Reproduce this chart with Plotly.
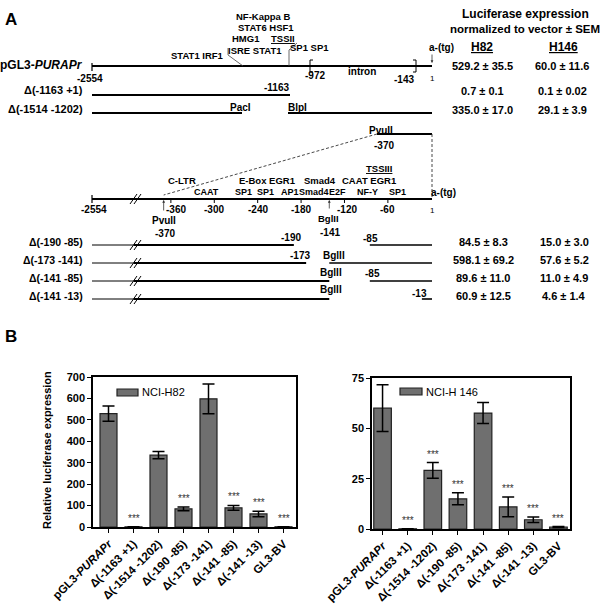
import numpy as np
import plotly.graph_objects as go

# ---------------- data ----------------
constructs = ["pGL3-<i>PURAPr</i>", "Δ(-1163 +1)", "Δ(-1514 -1202)", "Δ(-190 -85)",
              "Δ(-173 -141)", "Δ(-141 -85)", "Δ(-141 -13)", "GL3-BV"]
h82_mean = [529.2, 0.7, 335.0, 84.5, 598.1, 89.6, 60.9, 1.0]
h82_sem = [35.5, 0.1, 17.0, 8.3, 69.2, 11.0, 12.5, 0.1]
h146_mean = [60.0, 0.1, 29.1, 15.0, 57.6, 11.0, 4.6, 1.0]
h146_sem = [11.6, 0.02, 3.9, 3.0, 5.2, 4.9, 1.4, 0.2]
h82_sig = [0, 1, 0, 1, 0, 1, 1, 1]
h146_sig = [0, 1, 1, 1, 0, 1, 1, 1]
h82_ticks = [0, 100, 200, 300, 400, 500, 600, 700]
h146_ticks = [0, 25, 50, 75]
map_ticks = [-360, -300, -240, -180, -120, -60]
# deletions (start, end) in promoter coordinates
upper_dels = [None, (-1163, 1), (-1514, -1202)]
lower_dels = [(-190, -85), (-173, -141), (-141, -85), (-141, -13)]

FONT = "Liberation Sans, Arial, sans-serif"

def fmt(m, s):
    sd = f"{s:.2f}" if s < 0.1 else f"{s:.1f}"
    return f"{m:.1f} ± {sd}"

shapes = []
annots = []

def line(x0, y0, x1, y1, w=2.0, dash=None, color="black"):
    ln = dict(color=color, width=w)
    if dash:
        ln["dash"] = dash
    shapes.append(dict(type="line", xref="x3", yref="y3", x0=x0, y0=y0, x1=x1, y1=y1,
                       line=ln, layer="above"))

def text(x, y, s, size=10, xanchor="center", yanchor="middle", bold=True,
         under=False, color="black", angle=0):
    font = dict(size=size, family=FONT, color=color)
    if bold:
        font["weight"] = "bold"
    if under:
        font["lineposition"] = "under"
    annots.append(dict(xref="x3", yref="y3", x=x, y=y, text=s, showarrow=False,
                       xanchor=xanchor, yanchor=yanchor, font=font, textangle=angle,
                       borderpad=0))

def arrow(x, y0, y1):
    annots.append(dict(xref="x3", yref="y3", axref="x3", ayref="y3", x=x, y=y1, ax=x, ay=y0,
                       text="", showarrow=True, arrowhead=2, arrowsize=0.7,
                       arrowwidth=0.8, arrowcolor="#333"))

# coordinate helpers for the gene maps
def xt(p):
    return float(np.interp(p, [-2554, -1514, -1202, -1163, -972, -143, 1],
                           [92, 242, 288, 290, 310, 416, 432]))

def xm(p):
    return 432 + (p - 1) * 0.7233

# ---------------- panel A ----------------
text(4, 19, "A", size=17, xanchor="left")
text(525, 14, "Luciferase expression", size=12)
text(525, 29, "normalized to vector ± SEM", size=11.5)
text(482, 47, "H82", size=12, under=True)
text(563, 47, "H146", size=12, under=True)

# upper map
row_y_lab = [65, 90, 109]
row_y_line = [66, 95, 113]
text(84, row_y_lab[0], "pGL3-<i>PURAPr</i>", size=12, xanchor="right")
line(xt(-2554), row_y_line[0], xt(1), row_y_line[0])
line(xt(-2554), 63, xt(-2554), 71, w=1.2)
# brackets
line(xt(-972), 60, xt(-972), 72, w=1)
line(xt(-972), 60, xt(-972) + 3, 60, w=1)
line(xt(-972), 72, xt(-972) + 3, 72, w=1)
line(xt(-143), 60, xt(-143), 72, w=1)
line(xt(-143), 60, xt(-143) - 3, 60, w=1)
line(xt(-143), 72, xt(-143) - 3, 72, w=1)
text(90, 78, "-2554", size=10)
text(315, 75, "-972", size=10)
text(362, 71, "intron", size=10)
text(404, 79, "-143", size=10)
text(432, 78, "1", size=8, bold=False)
text(197, 55, "STAT1 IRF1", size=9.5)
text(255, 50, "ISRE STAT1", size=9.5)
text(246, 38, "HMG1", size=9.5)
text(283, 38, "TSSII", size=9.5, under=True)
text(266, 27, "STAT6 HSF1", size=9.5)
text(263, 16, "NF-Kappa B", size=9.5)
text(309, 47, "SP1 SP1", size=9.5)
text(441, 47, "a-(tg)", size=10)
arrow(432, 53, 63)
line(228, 48, 228, 55, w=0.8, color="#444")
line(228, 55, 243, 66, w=0.8, color="#444")
line(297, 43, 289, 50, w=0.8, color="#444")
line(289, 50, 289, 66, w=0.8, color="#444")

for i in (1, 2):
    text(84, row_y_lab[i], constructs[i], size=11, xanchor="right")
    d = upper_dels[i]
    line(xt(-2554), row_y_line[i], xt(d[0]), row_y_line[i])
    if d[1] < 1:
        line(xt(d[1]), row_y_line[i], xt(1), row_y_line[i])
text(290, 87, "-1163", size=10, xanchor="right")
text(240, 107, "PacI", size=10)
text(297, 107, "BlpI", size=10)

for i in range(3):
    text(482, row_y_lab[i] + 1, fmt(h82_mean[i], h82_sem[i]), size=11)
    text(562, row_y_lab[i] + 1, fmt(h146_mean[i], h146_sem[i]), size=11)

# expansion
text(381, 130, "PvuII", size=10)
text(384, 145, "-370", size=10)
line(377, 134, 432, 134)
line(432, 134, 432, 198, w=0.9, dash="3px,2px", color="#333")
line(377, 134, xm(-370), 195, w=0.9, dash="3px,2px", color="#333")

# lower map
my = 199
line(92, my, 432, my)
line(92, 195, 92, 203, w=1.2)
line(130, 204, 137, 194, w=1)
line(134, 204, 141, 194, w=1)
for t in map_ticks:
    line(xm(t), my, xm(t), my + 4, w=1)
    dx = 5 if t == -360 else (3 if t == -120 else 0)
    text(xm(t) + dx, 209, str(t), size=10)
text(94, 209, "-2554", size=10)
text(432, 210, "1", size=8, bold=False)
arrow(xm(-370), 212, 200)
text(xm(-370), 220, "PvuII", size=10)
text(xm(-370) + 1, 233, "-370", size=10)
arrow(xm(-141), 210, 200)
text(xm(-141) - 1, 218, "BglII", size=9.5)
text(xm(-141) + 1, 232, "-141", size=10)
for s, x in [("C-LTR", 182), ("E-Box EGR1", 267), ("Smad4", 320), ("CAAT EGR1", 369)]:
    text(x, 180, s, size=9.5)
for s, x in [("CAAT", 206), ("SP1", 243), ("SP1", 265), ("AP1", 290), ("Smad4", 314),
             ("E2F", 337), ("NF-Y", 367), ("SP1", 397)]:
    text(x, 192, s, size=9)
text(430, 192, "a-(tg)", size=10, xanchor="left")
text(379, 168, "TSSIII", size=9.5, under=True)

low_lab_y = [242, 260, 278, 296]
low_line_y = [245, 263, 281, 299]
for k, d in enumerate(lower_dels):
    i = 3 + k
    y = low_line_y[k]
    text(84, low_lab_y[k], constructs[i], size=10.5, xanchor="right")
    line(92, y, 134, y, w=1)
    line(134, y, xm(d[0]), y, w=2)
    line(xm(d[1]), y, 432, y, w=1.6)
    line(130, y + 5, 137, y - 5, w=1)
    line(134, y + 5, 141, y - 5, w=1)
    text(483, low_lab_y[k], fmt(h82_mean[i], h82_sem[i]), size=11)
    text(564, low_lab_y[k], fmt(h146_mean[i], h146_sem[i]), size=11)
text(291, 237, "-190", size=10)
text(370, 238, "-85", size=10)
text(300, 255, "-173", size=10)
text(334, 255, "BglII", size=10)
text(331, 272, "BglII", size=10)
text(372, 273, "-85", size=10)
text(331, 289, "BglII", size=10)
text(419, 293, "-13", size=10)

# ---------------- panel B ----------------
text(4, 336, "B", size=17, xanchor="left")
text(47, 450, "Relative luciferase expression", size=11, angle=-90)

# legend swatches
shapes.append(dict(type="rect", xref="x3", yref="y3", x0=117, x1=138, y0=389, y1=396,
                   fillcolor="#6f6f6f", line=dict(color="#222", width=1.2), layer="above"))
text(141, 392, "NCI-H82", size=11, bold=False, xanchor="left")
shapes.append(dict(type="rect", xref="x3", yref="y3", x0=400, x1=422, y0=388, y1=395,
                   fillcolor="#6f6f6f", line=dict(color="#222", width=1.2), layer="above"))
text(425, 392, "NCI-H 146", size=11, bold=False, xanchor="left")

xs = list(range(len(constructs)))
fig = go.Figure()
fig.add_trace(go.Bar(x=xs, y=h82_mean, width=0.68, xaxis="x", yaxis="y",
                     marker=dict(color="#6f6f6f", line=dict(color="#222", width=1.2)),
                     error_y=dict(type="data", array=h82_sem, color="black", thickness=1.5, width=6),
                     showlegend=False, name="NCI-H82"))
fig.add_trace(go.Bar(x=xs, y=h146_mean, width=0.7, xaxis="x2", yaxis="y2",
                     marker=dict(color="#6f6f6f", line=dict(color="#222", width=1.2)),
                     error_y=dict(type="data", array=h146_sem, color="black", thickness=1.5, width=6),
                     showlegend=False, name="NCI-H 146"))
fig.add_trace(go.Scatter(x=[0, 600], y=[0, 605], mode="markers", marker=dict(opacity=0),
                         xaxis="x3", yaxis="y3", hoverinfo="skip", showlegend=False))

for i in xs:
    if h82_sig[i]:
        annots.append(dict(xref="x", yref="y", x=i, y=h82_mean[i] + h82_sem[i], text="***",
                           showarrow=False, yanchor="bottom", yshift=1,
                           font=dict(size=10, family=FONT, color="#333")))
    if h146_sig[i]:
        annots.append(dict(xref="x2", yref="y2", x=i, y=h146_mean[i] + h146_sem[i], text="***",
                           showarrow=False, yanchor="bottom", yshift=1,
                           font=dict(size=10, family=FONT, color="#333")))

ticktext = [f"<b>{c}</b>" for c in constructs]
axis_common = dict(showline=True, mirror=True, linecolor="black", linewidth=1.5,
                   showgrid=False, zeroline=False, ticks="outside", ticklen=4, tickwidth=1.2,
                   tickcolor="black", fixedrange=True, automargin=False)
W, H = 600, 605
fig.update_layout(
    width=W, height=H, margin=dict(l=0, r=0, t=0, b=0, pad=0, autoexpand=False),
    paper_bgcolor="white", plot_bgcolor="rgba(0,0,0,0)",
    font=dict(family=FONT, color="black"),
    xaxis=dict(domain=[93 / W, 296 / W], range=[-0.62, 7.5], tickvals=xs, ticktext=ticktext,
               tickangle=-45, tickfont=dict(size=11.5), anchor="y", **axis_common),
    yaxis=dict(domain=[1 - 527 / H, 1 - 377 / H], range=[0, 700], tickvals=h82_ticks,
               tickfont=dict(size=11, weight="bold"), anchor="x", **axis_common),
    xaxis2=dict(domain=[372 / W, 570 / W], range=[-0.42, 7.46], tickvals=xs, ticktext=ticktext,
                tickangle=-45, tickfont=dict(size=11.5), anchor="y2", **axis_common),
    yaxis2=dict(domain=[1 - 529 / H, 1 - 378 / H], range=[0, 75], tickvals=h146_ticks,
                tickfont=dict(size=11, weight="bold"), anchor="x2", **axis_common),
    xaxis3=dict(domain=[0, 1], range=[0, W], visible=False, fixedrange=True, anchor="y3",
                automargin=False),
    yaxis3=dict(domain=[0, 1], range=[H, 0], visible=False, fixedrange=True, anchor="x3",
                automargin=False),
    shapes=shapes, annotations=annots, bargap=0.3,
)
fig.write_html("out.html", config={"displayModeBar": False},
               post_script="document.body.style.margin='0px';document.body.style.overflow='hidden';")
